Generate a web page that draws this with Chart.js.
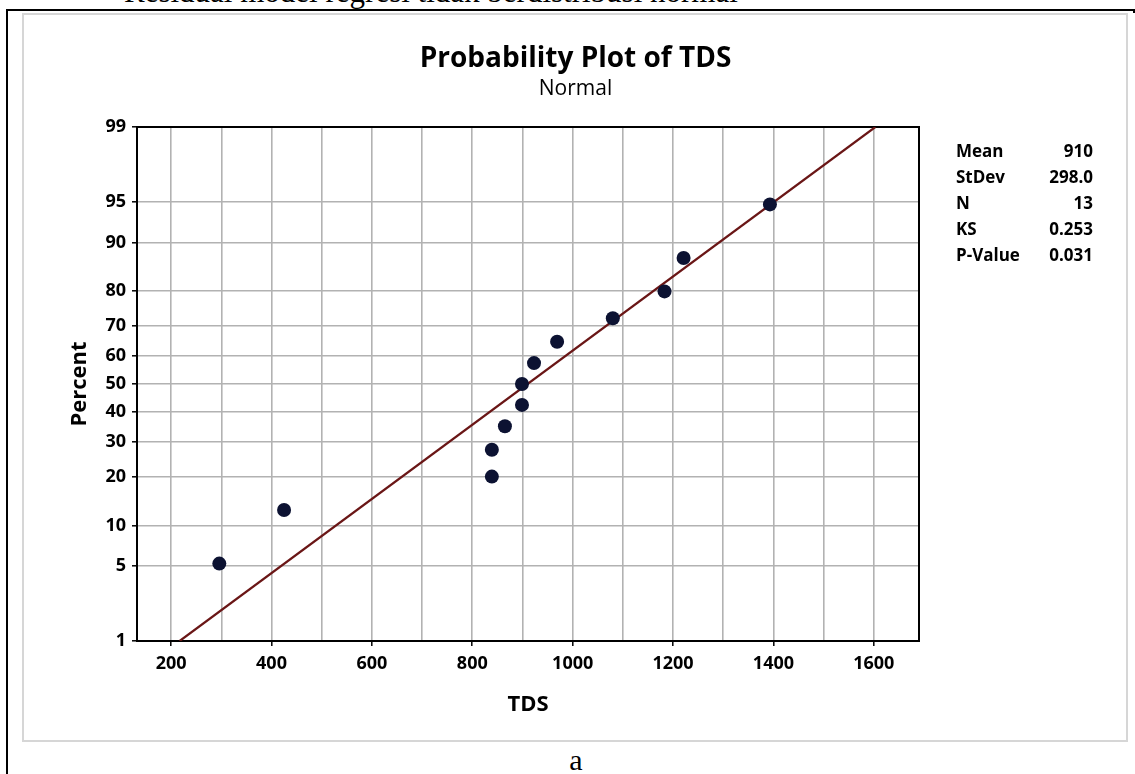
<!DOCTYPE html>
<html>
<head>
<meta charset="utf-8">
<script src="https://cdn.jsdelivr.net/npm/chart.js@4"></script>
<style>
  html, body { margin: 0; padding: 0; background: #fff; }
  body { width: 1135px; height: 774px; position: relative; overflow: hidden; }
  #cut { position: absolute; left: 124px; top: -24px; font: 31px/1 "Liberation Serif", "Times New Roman", serif; white-space: nowrap; color: #000; }
  .rule { position: absolute; background: #000; }
  #frame { position: absolute; left: 22px; top: 13px; width: 1106px; height: 729px; border: 2px solid #d6d6d6; box-sizing: border-box; }
  #wrap { position: absolute; left: 23px; top: 13px; width: 1105px; height: 729px; }
  #caption { position: absolute; left: 476px; width: 200px; top: 745px; text-align: center; font: 30px/1 "Liberation Serif", "Times New Roman", serif; }
</style>
</head>
<body>
<div id="cut">Residual model regresi tidak berdistribusi normal</div>
<div class="rule" style="left:6px; top:9px; width:1129px; height:2px;"></div>
<div class="rule" style="left:6px; top:9px; width:2px; height:765px;"></div>
<div class="rule" style="left:1133px; top:9px; width:2px; height:4px;"></div>
<div id="frame"></div>
<div id="wrap"><canvas id="prob-chart"></canvas></div>
<div id="caption">a</div>

<script>
// values
const tdsValues = [296, 425, 839, 839, 865, 899, 899, 923, 969, 1080, 1183, 1221, 1393];
const percentValues = [5.2, 12.7, 20.1, 27.6, 35.1, 42.5, 50, 57.5, 64.9, 72.4, 79.9, 87.3, 94.8];

// fitted normal line (ends of the drawn line)
const fitTds = [217, 1603];
const fitPercent = [1, 99];

// axes
const percentTicks = [1, 5, 10, 20, 30, 40, 50, 60, 70, 80, 90, 95, 99];
const tdsGrid = [200, 300, 400, 500, 600, 700, 800, 900, 1000, 1100, 1200, 1300, 1400, 1500, 1600];
const tdsMin = 132, tdsMax = 1690;

// stats box
const statLabels = ["Mean", "StDev", "N", "KS", "P-Value"];
const statValues = ["910", "298.0", "13", "0.253", "0.031"];

// inverse normal cdf (Acklam) - used as the probability scale
function probit(p) {
    const a = [-39.69683028665376, 220.9460984245205, -275.9285104469687, 138.3577518672690, -30.66479806614716, 2.506628277459239];
    const b = [-54.47609879822406, 161.5858368580409, -155.6989798598866, 66.80131188771972, -13.28068155288572];
    const c = [-0.007784894002430293, -0.3223964580411365, -2.400758277161838, -2.549732539343734, 4.374664141464968, 2.938163982698783];
    const d = [0.007784695709041462, 0.3224671290700398, 2.445134137142996, 3.754408661907416];
    const pLow = 0.02425;
    let q, r;
    if (p < pLow) {
        q = Math.sqrt(-2 * Math.log(p));
        return (((((c[0] * q + c[1]) * q + c[2]) * q + c[3]) * q + c[4]) * q + c[5]) / ((((d[0] * q + d[1]) * q + d[2]) * q + d[3]) * q + 1);
    }
    if (p <= 1 - pLow) {
        q = p - 0.5; r = q * q;
        return (((((a[0] * r + a[1]) * r + a[2]) * r + a[3]) * r + a[4]) * r + a[5]) * q / (((((b[0] * r + b[1]) * r + b[2]) * r + b[3]) * r + b[4]) * r + 1);
    }
    q = Math.sqrt(-2 * Math.log(1 - p));
    return -(((((c[0] * q + c[1]) * q + c[2]) * q + c[3]) * q + c[4]) * q + c[5]) / ((((d[0] * q + d[1]) * q + d[2]) * q + d[3]) * q + 1);
}

const FONT = '"Open Sans", "Noto Sans", sans-serif';
const GRID = "#b2b2b2";

// frame round the plot, titles and the stats table
const plotDecor = {
    id: "plotDecor",
    beforeDatasetsDraw(chart) {
        const { ctx, chartArea: a } = chart;
        ctx.save();
        ctx.strokeStyle = "#000";
        ctx.lineWidth = 2;
        ctx.strokeRect(a.left, a.top, a.right - a.left, a.bottom - a.top);
        ctx.restore();
    },
    afterDraw(chart) {
        const ctx = chart.ctx;
        const cx = chart.width / 2;
        ctx.save();
        ctx.fillStyle = "#000";
        ctx.textAlign = "center";
        ctx.textBaseline = "alphabetic";
        ctx.font = "bold 28px " + FONT;
        ctx.fillText("Probability Plot of TDS", cx, 54);
        ctx.font = "21px " + FONT;
        ctx.fillText("Normal", cx, 82);

        ctx.font = "bold 17px " + FONT;
        statLabels.forEach((lab, i) => {
            const y = 144 + i * 26;
            ctx.textAlign = "left";
            ctx.fillText(lab, 933, y);
            ctx.textAlign = "right";
            ctx.fillText(statValues[i], 1070, y);
        });
        ctx.restore();
    }
};

document.addEventListener("DOMContentLoaded", () => {
    new Chart(document.getElementById("prob-chart"), {
        data: {
            datasets: [{
                type: "scatter",
                data: tdsValues.map((v, i) => ({ x: v, y: probit(percentValues[i] / 100) })),
                backgroundColor: "#0c1232",
                borderWidth: 0,
                pointRadius: 7,
                order: 0
            }, {
                type: "line",
                data: fitTds.map((v, i) => ({ x: v, y: probit(fitPercent[i] / 100) })),
                borderColor: "#6a1616",
                borderWidth: 2.2,
                pointRadius: 0,
                fill: false,
                order: 1
            }]
        },
        options: {
            responsive: true,
            maintainAspectRatio: false,
            animation: false,
            layout: { padding: { top: 114, right: 209, left: 0, bottom: 0 } },
            plugins: { legend: { display: false }, tooltip: { enabled: false } },
            scales: {
                x: {
                    type: "linear",
                    min: tdsMin,
                    max: tdsMax,
                    afterBuildTicks: (s) => { s.ticks = tdsGrid.map(v => ({ value: v })); },
                    afterFit: (s) => { s.height = 101; },
                    ticks: {
                        autoSkip: false,
                        maxRotation: 0,
                        padding: 7,
                        color: "#000",
                        font: { family: FONT, size: 18, weight: "bold" },
                        callback: (v) => (v % 200 === 0 ? String(v) : "")
                    },
                    grid: {
                        color: GRID,
                        lineWidth: 1.6,
                        tickLength: 5,
                        tickWidth: 1.5,
                        tickColor: (c) => (c.tick && c.tick.value % 200 === 0 ? "#000" : "rgba(0,0,0,0)")
                    },
                    border: { display: true, color: "#000", width: 2 },
                    title: {
                        display: true,
                        text: "TDS",
                        color: "#000",
                        font: { family: FONT, size: 22, weight: "bold" },
                        padding: { top: 0, bottom: 24 }
                    }
                },
                y: {
                    type: "linear",
                    min: probit(0.01),
                    max: probit(0.99),
                    afterBuildTicks: (s) => { s.ticks = percentTicks.map(p => ({ value: probit(p / 100) })); },
                    afterFit: (s) => { s.width = 114; },
                    ticks: {
                        autoSkip: false,
                        padding: 6,
                        color: "#000",
                        font: { family: FONT, size: 18, weight: "bold" },
                        callback: (v, i) => percentTicks[i]
                    },
                    grid: {
                        color: GRID,
                        lineWidth: 1.6,
                        tickLength: 5,
                        tickWidth: 1.5,
                        tickColor: "#000"
                    },
                    border: { display: true, color: "#000", width: 2 },
                    title: {
                        display: true,
                        text: "Percent",
                        color: "#000",
                        font: { family: FONT, size: 22, weight: "bold" },
                        padding: { top: 44, bottom: 0 }
                    }
                }
            }
        },
        plugins: [plotDecor]
    });
});
</script>
</body>
</html>
